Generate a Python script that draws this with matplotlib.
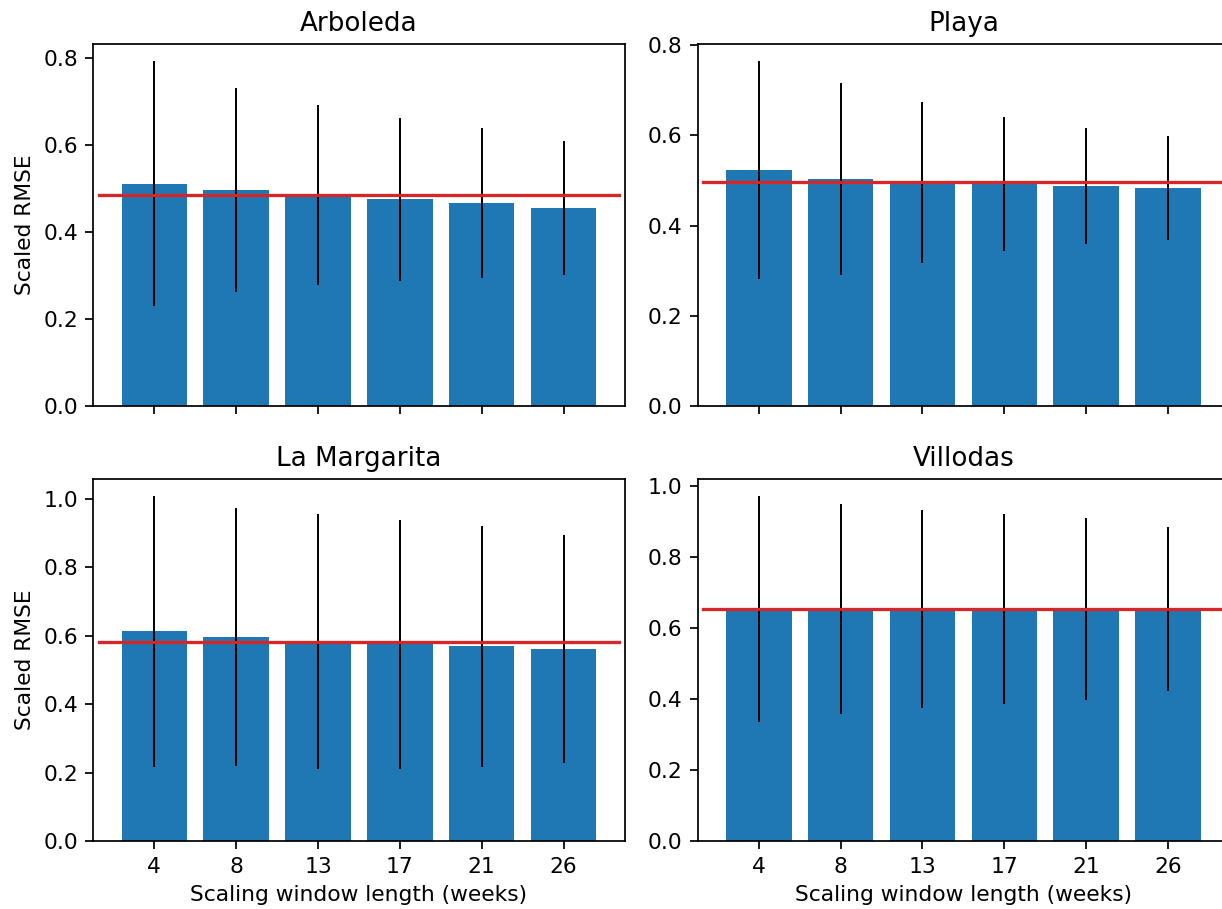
import numpy as np
import matplotlib
matplotlib.use('Agg')
import matplotlib.pyplot as plt

# Длины окна масштабирования (недели)
windows = ['4', '8', '13', '17', '21', '26']

# Названия станций
sites = ['Arboleda', 'Playa', 'La Margarita', 'Villodas']

# Средние значения Scaled RMSE
arboleda_mean = [0.512, 0.497, 0.485, 0.476, 0.467, 0.455]
playa_mean = [0.523, 0.504, 0.496, 0.492, 0.488, 0.484]
margarita_mean = [0.613, 0.596, 0.584, 0.575, 0.569, 0.561]
villodas_mean = [0.654, 0.654, 0.654, 0.654, 0.654, 0.654]

# Стандартные отклонения
arboleda_err = [0.282, 0.234, 0.207, 0.187, 0.173, 0.154]
playa_err = [0.242, 0.213, 0.178, 0.149, 0.129, 0.115]
margarita_err = [0.395, 0.377, 0.372, 0.364, 0.353, 0.333]
villodas_err = [0.318, 0.295, 0.279, 0.268, 0.255, 0.232]

# Опорный уровень (красная линия)
reference = [0.486, 0.496, 0.583, 0.655]

means = [arboleda_mean, playa_mean, margarita_mean, villodas_mean]
errs = [arboleda_err, playa_err, margarita_err, villodas_err]

dpi = 157
fig, axes = plt.subplots(2, 2, figsize=(1222 / dpi, 909 / dpi), dpi=dpi, sharex=True)
fig.subplots_adjust(left=0.0764, right=1.0057, top=0.9519, bottom=0.0745,
                    wspace=0.138, hspace=0.2005)

x = np.arange(len(windows))
for i, ax in enumerate(axes.flat):
    ax.bar(x, means[i], yerr=errs[i], color='tab:blue', ecolor='black',
           error_kw={'elinewidth': 0.9})
    ax.axhline(reference[i], xmin=0.01, xmax=0.99, color='tab:red', linewidth=1.5)
    ax.set_title(sites[i], fontsize=12)
    ax.set_xlim(-0.745, 5.745)

for ax in axes[:, 0]:
    ax.set_ylabel('Scaled RMSE')
for ax in axes[1, :]:
    ax.set_xticks(x)
    ax.set_xticklabels(windows)
    ax.set_xlabel('Scaling window length (weeks)')

plt.savefig('out.png', dpi=dpi)
